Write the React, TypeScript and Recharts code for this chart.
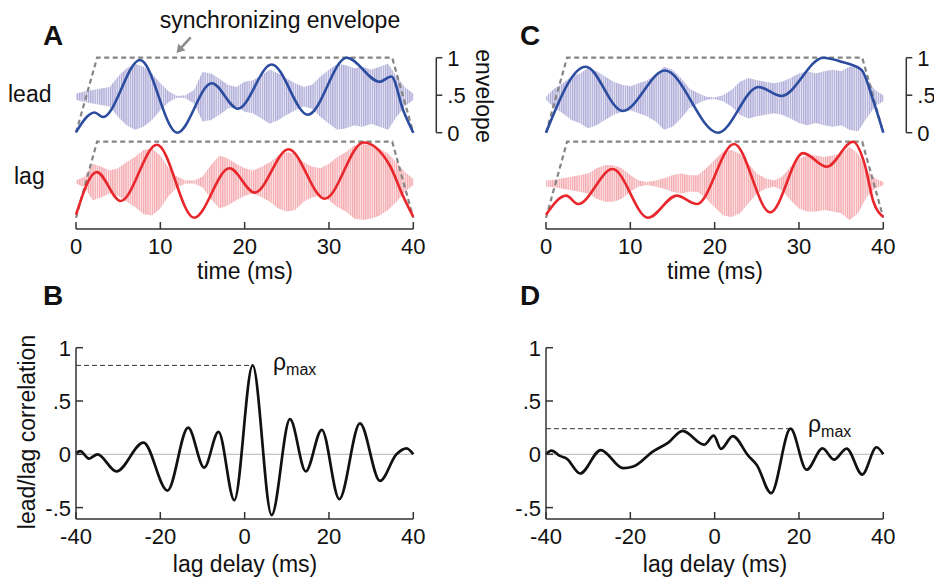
import React from "react";
import { ComposedChart, Line, Area, XAxis, YAxis, ReferenceLine } from "recharts";

const W = 934;
const H = 580;
const FONT = '"Liberation Sans", Arial, Helvetica, sans-serif';
const AXIS = "#333";
const INK = "#111";

// grid (ms) the carrier amplitude was read at
const timeGrid = [
  0, 1, 2, 3, 4, 5, 6, 7, 8, 9, 10, 11, 12, 13, 14, 15, 16, 17, 18, 19, 20,
  21, 22, 23, 24, 25, 26, 27, 28, 29, 30, 31, 32, 33, 34, 35, 36, 37, 38, 39, 40,
];
const timeTicks = [0, 10, 20, 30, 40];
const envTicks = [0, 0.5, 1];
const lagTicks = [-40, -20, 0, 20, 40];
const corrTicks = [-0.5, 0, 0.5, 1];

// dashed synchronizing envelope [ms, envelope]
const syncEnvelope = [[0, 0], [2.5, 1], [37.5, 1], [40, 0]];

// panel A envelopes [ms, envelope]
const leadEnvA = [
  [0, 0.01], [2.2, 0.27], [3.2, 0.21], [7.6, 0.97], [12.0, 0.0], [16.1, 0.66],
  [19.2, 0.32], [23.2, 0.91], [27.5, 0.24], [32.1, 1.0], [36.0, 0.68],
  [37.4, 0.75], [38.8, 0.3], [40, 0.0],
];
const lagEnvA = [
  [0, 0.04], [2.45, 0.6], [5.3, 0.22], [9.6, 0.96], [14.0, 0.0], [18.2, 0.65],
  [21.2, 0.33], [25.2, 0.9], [29.5, 0.25], [34.1, 0.99], [37.2, 0.69],
  [38.8, 0.28], [40, 0.01],
];
// carrier half-amplitude, one value per timeGrid step
const leadNoiseA = [
  0.04, 0.07, 0.09, 0.11, 0.13, 0.27, 0.38, 0.44, 0.4, 0.31, 0.18, 0.07, 0.01,
  0.02, 0.09, 0.33, 0.31, 0.24, 0.16, 0.13, 0.2, 0.22, 0.29, 0.36, 0.31, 0.24,
  0.18, 0.13, 0.16, 0.27, 0.36, 0.44, 0.42, 0.38, 0.4, 0.36, 0.4, 0.44, 0.27,
  0.13, 0.04,
];
const lagNoiseA = [
  0.02, 0.07, 0.24, 0.2, 0.15, 0.18, 0.26, 0.33, 0.42, 0.44, 0.35, 0.18, 0.07,
  0.02, 0.02, 0.07, 0.22, 0.35, 0.31, 0.24, 0.18, 0.15, 0.2, 0.26, 0.35, 0.39,
  0.37, 0.26, 0.2, 0.18, 0.24, 0.33, 0.39, 0.48, 0.5, 0.48, 0.44, 0.37, 0.26,
  0.13, 0.04,
];

// panel C
const leadEnvC = [
  [0, 0.0], [4.7, 0.88], [9.1, 0.29], [14.1, 0.83], [20.4, 0.0], [25.2, 0.61],
  [27.9, 0.49], [32.9, 1.0], [34.9, 0.95], [37.4, 0.84], [38.8, 0.43], [40, 0.0],
];
const lagEnvC = [
  [0, 0.04], [2.4, 0.29], [3.8, 0.18], [7.9, 0.64], [12.1, 0.0], [15.5, 0.29],
  [17.9, 0.18], [22.3, 0.97], [26.6, 0.07], [30.5, 0.85], [33.3, 0.67],
  [36.4, 1.0], [37.8, 0.7], [38.8, 0.22], [40, 0.01],
];
const leadNoiseC = [
  0.02, 0.13, 0.2, 0.29, 0.33, 0.4, 0.36, 0.29, 0.22, 0.18, 0.16, 0.2, 0.24,
  0.31, 0.42, 0.38, 0.27, 0.13, 0.07, 0.02, 0.01, 0.04, 0.11, 0.22, 0.27, 0.24,
  0.22, 0.2, 0.22, 0.27, 0.33, 0.36, 0.33, 0.36, 0.38, 0.36, 0.42, 0.44, 0.27,
  0.11, 0.04,
];
const lagNoiseC = [
  0.04, 0.05, 0.07, 0.09, 0.11, 0.13, 0.2, 0.24, 0.24, 0.2, 0.11, 0.04, 0.02,
  0.04, 0.07, 0.11, 0.13, 0.11, 0.11, 0.2, 0.31, 0.42, 0.44, 0.39, 0.26, 0.13,
  0.07, 0.04, 0.09, 0.22, 0.33, 0.37, 0.37, 0.35, 0.37, 0.39, 0.48, 0.39, 0.18,
  0.07, 0.02,
];

// carrier baselines (envelope units)
const leadCenterA = 0.48;
const lagCenterA = 0.47;
const leadCenterC = 0.46;
const lagCenterC = 0.45;

// lead/lag correlation [lag delay ms, correlation]
const corrB = [
  [-40, 0.01], [-39, 0.03], [-36.9, -0.04], [-34.9, 0.0], [-30.4, -0.16],
  [-24.0, 0.11], [-18.3, -0.34], [-13.4, 0.25], [-9.6, -0.125], [-6.2, 0.21],
  [-2.45, -0.43], [1.9, 0.834], [6.4, -0.57], [10.75, 0.33], [14.5, -0.16],
  [18.3, 0.23], [22.45, -0.42], [27.35, 0.29], [32.1, -0.25], [36.0, 0.0],
  [38.4, 0.056], [40, 0.0],
];
const corrD = [
  [-40, 0.0], [-38.7, 0.035], [-36.7, -0.015], [-35.1, -0.04], [-31.9, -0.18],
  [-27.0, 0.04], [-21.7, -0.13], [-19.3, -0.115], [-14.5, 0.03], [-11.0, 0.11],
  [-7.6, 0.22], [-2.5, 0.09], [-0.2, 0.175], [1.5, 0.05], [4.3, 0.17],
  [8.0, -0.015], [10.0, -0.1], [13.4, -0.365], [18.0, 0.24], [21.8, -0.145],
  [25.6, 0.056], [28.3, -0.05], [31.3, 0.053], [35.0, -0.19], [38.4, 0.066],
  [40, 0.0],
];

// layout (page px)
const PX_PER_MS = 337.3 / 40;
const LEAD_TOP = 57.7;
const LEAD_ZERO = 132.7;
const LAG_TOP = 141.7;
const LAG_ZERO = 217.7;
const TIME_AXIS_Y = 229;
const SCALE_GAP = 23; // scale bar sits right of the 40 ms edge
const CORR_ONE = 347.7;
const CORR_ZERO = 454.3;
const CORR_AXIS_Y = 519;
const CORR_W = 337.3;

const toPts = (pts: number[][]) => pts.map(([t, v]) => ({ t, v }));
const toBand = (amp: number[], c: number) =>
  timeGrid.map((t, i) => ({ t, band: [c - amp[i], c + amp[i]] }));
const fmt = (v: number) => (v === 0 ? "0" : String(v).replace(/^(-?)0\./, "$1."));

const XTick = (props: any) => {
  const { x, y, payload } = props;
  return (
    <g>
      <line x1={x} y1={y} x2={x} y2={y - 7} stroke={AXIS} strokeWidth={1.5} />
      <text x={x} y={y + 25} textAnchor="middle" fontSize={22} fill={INK} fontFamily={FONT}>
        {fmt(payload.value)}
      </text>
    </g>
  );
};
const LeftTick = (props: any) => {
  const { x, y, payload } = props;
  return (
    <g>
      <line x1={x} y1={y} x2={x + 7} y2={y} stroke={AXIS} strokeWidth={1.5} />
      <text x={x - 5} y={y + 8} textAnchor="end" fontSize={22} fill={INK} fontFamily={FONT}>
        {fmt(payload.value)}
      </text>
    </g>
  );
};
const RightTick = (props: any) => {
  const { x, y, payload } = props;
  return (
    <g>
      <line x1={x} y1={y} x2={x + 6} y2={y} stroke={AXIS} strokeWidth={1.5} />
      <text x={x + 11} y={y + 8} textAnchor="start" fontSize={22} fill={INK} fontFamily={FONT}>
        {fmt(payload.value)}
      </text>
    </g>
  );
};

const layer: React.CSSProperties = { position: "absolute", left: 0, top: 0 };

type TraceProps = {
  x0: number;
  lead: boolean;
  band: { t: number; band: number[] }[];
  curve: number[][];
  bandColor: string;
  curveColor: string;
};

function TraceChart({ x0, lead, band, curve, bandColor, curveColor }: TraceProps) {
  const right = lead ? x0 + 337.3 + SCALE_GAP : x0 + 337.3;
  const top = lead ? LEAD_TOP : LAG_TOP;
  const bottom = lead ? LEAD_ZERO : TIME_AXIS_Y;
  const yMin = lead ? 0 : -(TIME_AXIS_Y - LAG_ZERO) / (LAG_ZERO - LAG_TOP);
  const xMax = (right - x0) / PX_PER_MS;
  const xH = lead ? 0 : 40;
  const rW = lead ? 40 : 0;
  const patId = `carrier-${x0}-${lead ? "lead" : "lag"}`;
  return (
    <div style={layer}>
      <ComposedChart
        width={W}
        height={H}
        data={band}
        margin={{ top, left: x0, right: W - right - rW, bottom: H - bottom - xH }}
      >
        <defs>
          {/* vertical hatching to suggest the dense noise carrier */}
          <pattern id={patId} width={2.2} height={8} patternUnits="userSpaceOnUse">
            <rect x={0} y={0} width={1.2} height={8} fill={bandColor} />
          </pattern>
        </defs>
        <XAxis
          type="number"
          dataKey="t"
          domain={[0, xMax]}
          hide={lead}
          height={xH}
          ticks={timeTicks}
          interval={0}
          tick={XTick}
          tickLine={false}
          tickSize={0}
          tickMargin={0}
          axisLine={{ stroke: AXIS, strokeWidth: 1.5 }}
        />
        <YAxis
          type="number"
          orientation="right"
          domain={[yMin, 1]}
          hide={!lead}
          width={rW}
          ticks={envTicks}
          interval={0}
          tick={RightTick}
          tickLine={false}
          tickSize={0}
          tickMargin={0}
          axisLine={{ stroke: AXIS, strokeWidth: 1.5 }}
        />
        <Area
          dataKey="band"
          type="linear"
          stroke="none"
          fill={bandColor}
          fillOpacity={0.3}
          isAnimationActive={false}
        />
        <Area
          dataKey="band"
          type="linear"
          stroke="none"
          fill={`url(#${patId})`}
          fillOpacity={1}
          isAnimationActive={false}
        />
        <Line
          data={toPts(syncEnvelope)}
          dataKey="v"
          type="linear"
          stroke="#858585"
          strokeWidth={2.2}
          strokeDasharray="5 3.5"
          dot={false}
          isAnimationActive={false}
        />
        <Line
          data={toPts(curve)}
          dataKey="v"
          type="monotone"
          stroke={curveColor}
          strokeWidth={2.6}
          dot={false}
          isAnimationActive={false}
        />
      </ComposedChart>
    </div>
  );
}

function CorrChart({ x0, curve }: { x0: number; curve: number[][] }) {
  const pxPerUnit = CORR_ZERO - CORR_ONE;
  const yMin = -(CORR_AXIS_Y - CORR_ZERO) / pxPerUnit;
  const rho = Math.max(...curve.map((p) => p[1]));
  const peakLag = curve.find((p) => p[1] === rho)![0];
  return (
    <div style={layer}>
      <ComposedChart
        width={W}
        height={H}
        margin={{ top: CORR_ONE, left: x0 - 50, right: W - x0 - CORR_W, bottom: H - CORR_AXIS_Y - 40 }}
      >
        <XAxis
          type="number"
          dataKey="t"
          domain={[-40, 40]}
          height={40}
          ticks={lagTicks}
          interval={0}
          tick={XTick}
          tickLine={false}
          tickSize={0}
          tickMargin={0}
          axisLine={{ stroke: AXIS, strokeWidth: 1.5 }}
        />
        <YAxis
          type="number"
          domain={[yMin, 1]}
          width={50}
          ticks={corrTicks}
          interval={0}
          tick={LeftTick}
          tickLine={false}
          tickSize={0}
          tickMargin={0}
          axisLine={{ stroke: AXIS, strokeWidth: 1.5 }}
        />
        <ReferenceLine y={0} stroke="#c4c4c4" strokeWidth={1.3} />
        <ReferenceLine
          segment={[{ x: -40, y: rho }, { x: peakLag, y: rho }]}
          stroke="#333"
          strokeWidth={1}
          strokeDasharray="5 3"
        />
        <Line
          data={toPts(curve)}
          dataKey="v"
          type="monotone"
          stroke={INK}
          strokeWidth={2.7}
          dot={false}
          isAnimationActive={false}
        />
      </ComposedChart>
    </div>
  );
}

const LEAD_BLUE = "#2b4c9f";
const LAG_RED = "#e8272c";
const LEAD_NOISE = "#aeabd8";
const LAG_NOISE = "#f4a8ad";

export default function App() {
  return (
    <div style={{ position: "absolute", left: 0, top: 0, width: W, height: H, overflow: "hidden", background: "#fff" }}>
      <TraceChart x0={76} lead band={toBand(leadNoiseA, leadCenterA)} curve={leadEnvA} bandColor={LEAD_NOISE} curveColor={LEAD_BLUE} />
      <TraceChart x0={76} lead={false} band={toBand(lagNoiseA, lagCenterA)} curve={lagEnvA} bandColor={LAG_NOISE} curveColor={LAG_RED} />
      <TraceChart x0={546} lead band={toBand(leadNoiseC, leadCenterC)} curve={leadEnvC} bandColor={LEAD_NOISE} curveColor={LEAD_BLUE} />
      <TraceChart x0={546} lead={false} band={toBand(lagNoiseC, lagCenterC)} curve={lagEnvC} bandColor={LAG_NOISE} curveColor={LAG_RED} />
      <CorrChart x0={76} curve={corrB} />
      <CorrChart x0={546} curve={corrD} />

      <svg width={W} height={H} style={{ ...layer, pointerEvents: "none" }} fontFamily={FONT} fill={INK}>
        <text x={43} y={45} fontSize={28} fontWeight="bold">A</text>
        <text x={520} y={45} fontSize={28} fontWeight="bold">C</text>
        <text x={43} y={305} fontSize={28} fontWeight="bold">B</text>
        <text x={520} y={305} fontSize={28} fontWeight="bold">D</text>

        <text x={280} y={28} fontSize={23} textAnchor="middle">synchronizing envelope</text>
        <line x1={190.7} y1={37.3} x2={181.5} y2={47.3} stroke="#8c8c8c" strokeWidth={2.5} />
        <polygon points="176.5,53 185.4,50.2 178.2,43.8" fill="#8c8c8c" />

        <text x={8} y={101.5} fontSize={23}>lead</text>
        <text x={14} y={184} fontSize={23}>lag</text>
        <text x={476} y={96} fontSize={23} textAnchor="middle" transform="rotate(90 476 96)">envelope</text>

        <text x={245} y={279} fontSize={23} textAnchor="middle">time (ms)</text>
        <text x={715} y={279} fontSize={23} textAnchor="middle">time (ms)</text>
        <text x={245} y={572} fontSize={23} textAnchor="middle">lag delay (ms)</text>
        <text x={715} y={572} fontSize={23} textAnchor="middle">lag delay (ms)</text>
        <text x={35} y={432} fontSize={23} textAnchor="middle" transform="rotate(-90 35 432)">lead/lag correlation</text>

        <text x={273} y={370} fontSize={23}>
          ρ<tspan fontSize={16} dy={5}>max</tspan>
        </text>
        <text x={808} y={432} fontSize={23}>
          ρ<tspan fontSize={16} dy={5}>max</tspan>
        </text>
      </svg>
    </div>
  );
}
